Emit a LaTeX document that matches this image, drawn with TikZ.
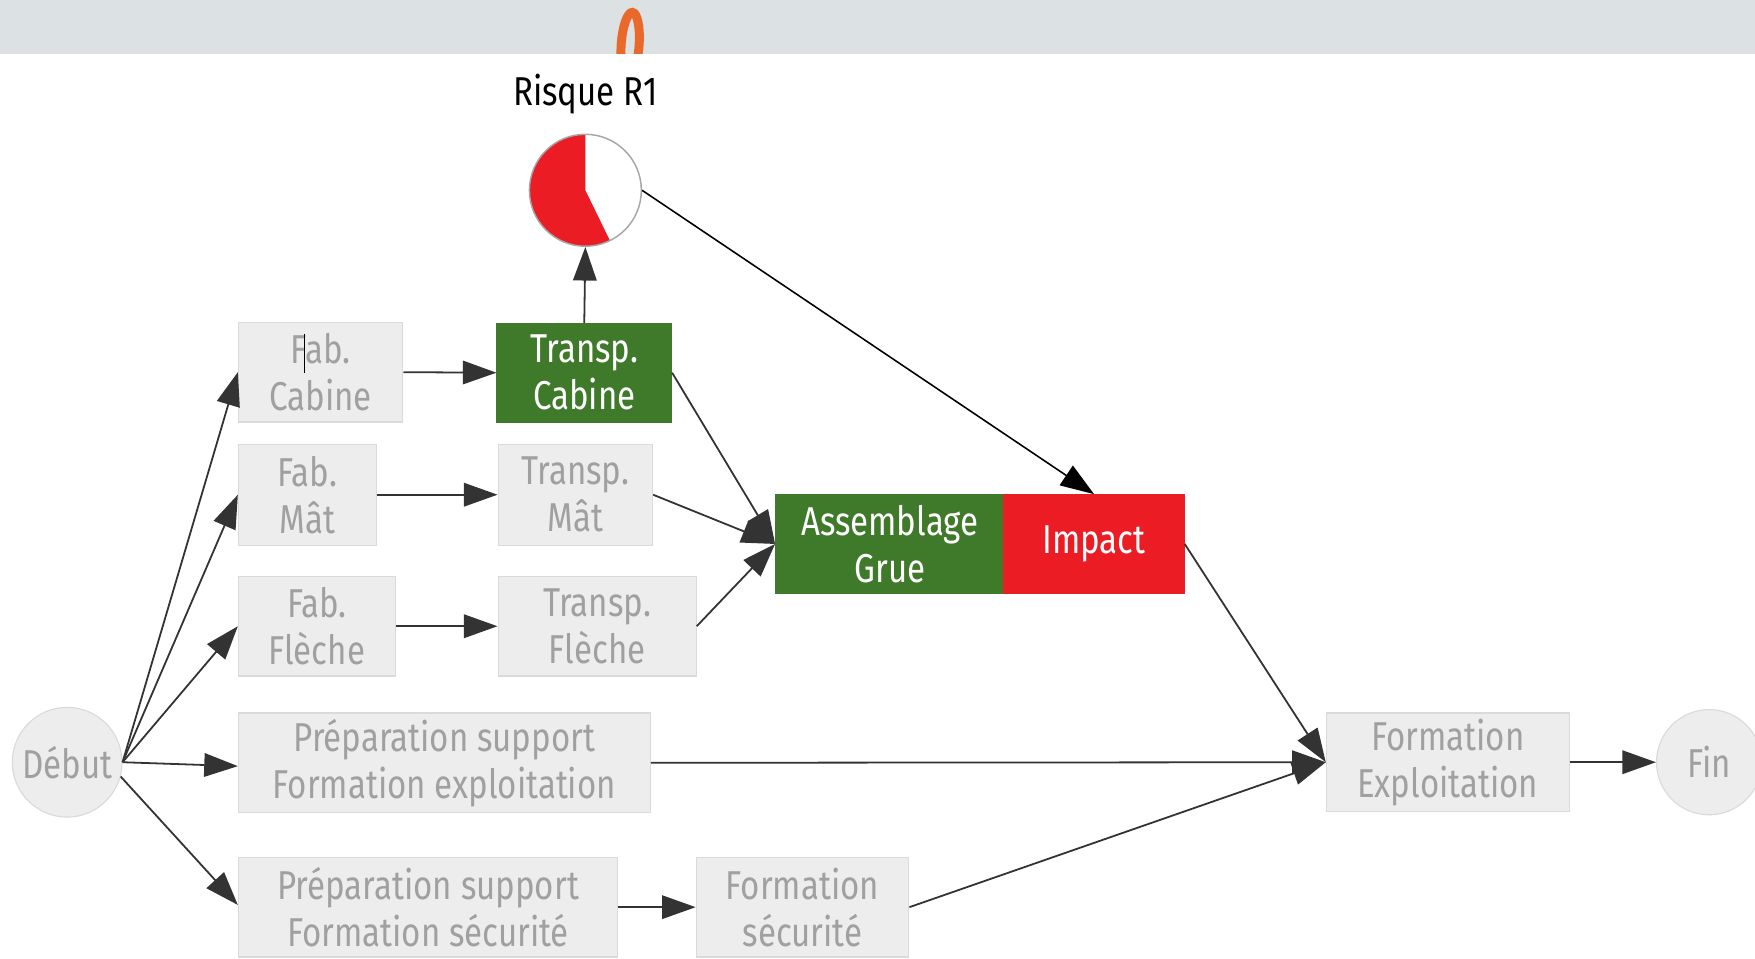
\documentclass[tikz,border=0pt]{standalone}
\usepackage{fontspec}
\setmainfont[FakeStretch=0.82]{Fira Sans}
\usetikzlibrary{arrows.meta}
\definecolor{barc}{HTML}{DCE2E3}
\definecolor{orangec}{HTML}{E8692A}
\definecolor{boxfill}{HTML}{EDEDED}
\definecolor{boxline}{HTML}{DADADA}
\definecolor{boxtext}{HTML}{A0A0A0}
\definecolor{greenc}{HTML}{3E7A29}
\definecolor{redc}{HTML}{EC1C24}
\definecolor{edgec}{HTML}{333333}
\tikzset{
  box/.style={rectangle, draw=boxline, fill=boxfill, text=boxtext, line width=1pt,
    font=\fontsize{36}{42}\selectfont, align=center, inner sep=0pt},
  greenbox/.style={box, draw=greenc, fill=greenc, text=white},
  redbox/.style={box, draw=redc, fill=redc, text=white},
  endpt/.style={circle, draw=boxline, fill=boxfill, text=boxtext, line width=1pt,
    font=\fontsize{36}{42}\selectfont, inner sep=0pt},
  edge/.style={draw=edgec, line width=1.6pt, -{Triangle[length=30pt, width=21pt]}},
  blackedge/.style={draw=black, line width=1.4pt, -{Triangle[length=30pt, width=21pt]}}
}
\begin{document}
\begin{tikzpicture}[x=1pt,y=-1pt]
\useasboundingbox (0,0) rectangle (1568,856);
\fill[white] (0,0) rectangle (1568,856);
\fill[barc] (0,0) rectangle (1568,48);
\begin{scope}
  \clip (0,0) rectangle (1568,48);
  \draw[orangec, line width=8pt, rotate around={-4:(563,40)}] (563,40) ellipse [x radius=8, y radius=29];
\end{scope}

% nodes
\node[font=\fontsize{36}{42}\selectfont, text=black] (risklabel) at (523,84) {Risque R1};
\fill[redc] (523,170) -- ++(-90:50) arc[start angle=-90, end angle=-296, radius=50] -- cycle;
\node[circle, draw=gray!70, line width=1.3pt, minimum size=100pt, inner sep=0pt] (risk) at (523,170) {};

\node[box, minimum width=147pt, minimum height=89pt] (fc) at (286.5,332.5) {Fab.\\Cabine};
\draw[black, line width=1.3pt] (272,298) -- (272,333);
\node[greenbox, minimum width=156pt, minimum height=88pt] (tc) at (522,333) {Transp.\\Cabine};
\node[box, minimum width=123pt, minimum height=90pt] (fm) at (274.5,442) {Fab.\\Mât};
\node[box, minimum width=138pt, minimum height=90pt] (tm) at (514,442) {Transp.\\Mât};
\node[box, minimum width=140pt, minimum height=89pt] (ff) at (283,559.5) {Fab.\\Flèche};
\node[box, minimum width=177pt, minimum height=89pt] (tf) at (533.5,559.5) {Transp.\\Flèche};
\node[greenbox, minimum width=204pt, minimum height=88pt] (ag) at (795,486) {Assemblage\\Grue};
\node[redbox, minimum width=161pt, minimum height=88pt] (im) at (977.5,486) {Impact};
\node[box, minimum width=368pt, minimum height=89pt] (pe) at (397,681.5) {Préparation support\\Formation exploitation};
\node[box, minimum width=339pt, minimum height=89pt] (ps) at (382.5,810.5) {Préparation support\\Formation sécurité};
\node[box, minimum width=190pt, minimum height=89pt] (fs) at (717,810.5) {Formation\\sécurité};
\node[box, minimum width=217pt, minimum height=88pt] (fe) at (1293.5,681) {Formation\\Exploitation};
\node[endpt, minimum size=98pt] (deb) at (60,681) {Début};
\node[endpt, minimum size=94pt] (fin) at (1527,681) {Fin};

% connectors
\draw[edge] (deb.east) -- (fc.west);
\draw[edge] (deb.east) -- (fm.west);
\draw[edge] (deb.east) -- (ff.west);
\draw[edge] (deb.east) -- ([yshift=-3pt]pe.west);
\draw[edge] (deb.-15) -- ([yshift=2pt]ps.west);
\draw[edge] (fc.east) -- (tc.west);
\draw[edge] (fm.east) -- (tm.west);
\draw[edge] (ff.east) -- (tf.west);
\draw[edge] (ps.east) -- (fs.west);
\draw[edge] (tc.east) -- (ag.west);
\draw[edge] (tm.east) -- (ag.west);
\draw[edge] (tf.east) -- (ag.west);
\draw[edge] (tc.north) -- (risk.south);
\draw[blackedge] (risk.east) -- (im.north);
\draw[edge] (im.east) -- (fe.west);
\draw[edge] (pe.east) -- (fe.west);
\draw[edge] (fs.east) -- (fe.west);
\draw[edge] (fe.east) -- (fin.west);
\end{tikzpicture}
\end{document}
